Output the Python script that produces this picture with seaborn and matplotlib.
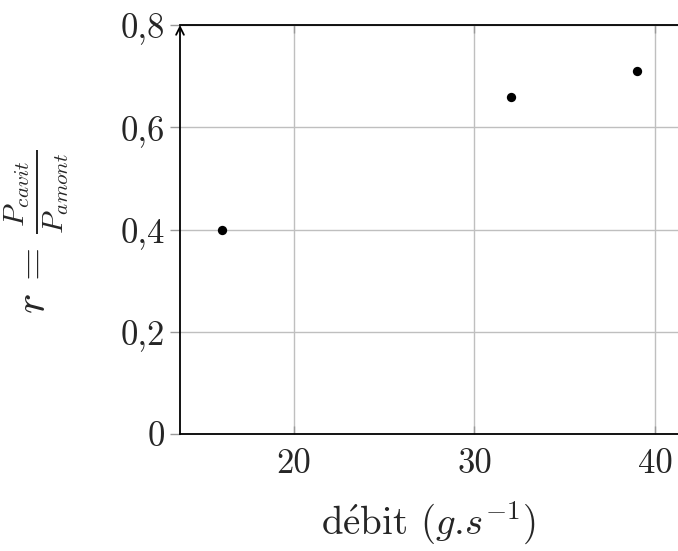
import matplotlib
matplotlib.use("Agg")
import matplotlib.pyplot as plt
import pandas as pd
import seaborn as sns

# valeurs
debit = [16, 32, 39]
rapport = [0.40, 0.66, 0.71]
xticks = [20, 30, 40]
yticks = [0, 0.2, 0.4, 0.6, 0.8]
ytick_labels = ["0", "0,2", "0,4", "0,6", "0,8"]

sns.set_style("white")
plt.rcParams["font.family"] = "serif"
plt.rcParams["font.serif"] = ["cmr10", "DejaVu Serif"]
plt.rcParams["mathtext.fontset"] = "cm"
plt.rcParams["axes.unicode_minus"] = False

df = pd.DataFrame({"debit": debit, "r": rapport})

W, H = 678, 551
fig = plt.figure(figsize=(W / 100, H / 100), dpi=100)
# axe qui depasse a droite, comme sur l'original
left, right, top, bottom = 180, 691, 25, 434
ax = fig.add_axes([left / W, 1 - bottom / H, (right - left) / W, (bottom - top) / H])

sns.scatterplot(data=df, x="debit", y="r", color="black", s=45, edgecolor="black",
                linewidth=0, ax=ax, zorder=5, clip_on=False)

ax.set_xlim(13.68, 42)
ax.set_ylim(0, 0.8)
ax.set_xticks(xticks)
ax.set_xticklabels([str(t) for t in xticks])
ax.set_yticks(yticks)
ax.set_yticklabels(ytick_labels)

ax.grid(True, color="#bfbfbf", linewidth=1)
ax.set_axisbelow(True)

ax.tick_params(axis="x", direction="in", length=6, color="#999999", width=1,
               top=True, bottom=True, labelsize=25, pad=10)
ax.tick_params(axis="y", direction="out", length=7, color="#999999", width=1,
               left=True, right=False, labelsize=25, pad=4)

for s in ["left", "right"]:
    ax.spines[s].set_visible(False)
for s in ["top", "bottom"]:
    ax.spines[s].set_linewidth(1.3)
    ax.spines[s].set_color("black")

ax.annotate("", xy=(0, 1.0), xytext=(0, 0), xycoords="axes fraction",
            arrowprops=dict(arrowstyle="->", lw=1.3, color="black",
                            mutation_scale=14, shrinkA=0, shrinkB=0))

ax.set_xlabel(r"d$\mathrm{\acute{e}}$bit ($g$.$s^{-1}$)", fontsize=28)
ax.set_ylabel(r"$r\,=\,\frac{P_{cavit}}{P_{amont}}$", fontsize=31)
ax.xaxis.set_label_coords((428 - left) / (right - left), -0.16)
ax.yaxis.set_label_coords(-0.213, (bottom - 232) / (bottom - top))

fig.savefig("out.png", dpi=100)
